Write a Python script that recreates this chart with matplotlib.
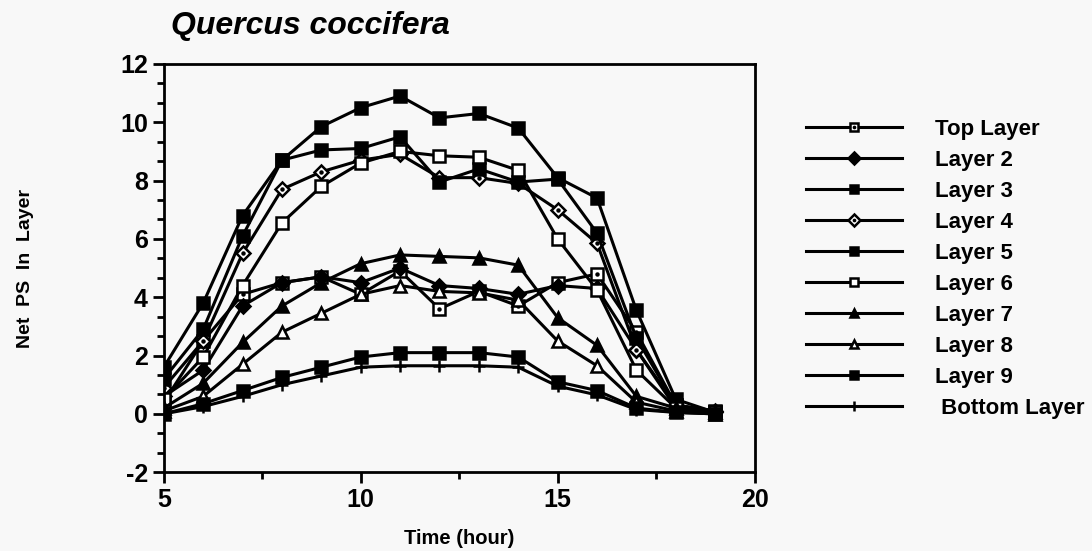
import matplotlib.pyplot as plt
from matplotlib.ticker import MultipleLocator, AutoMinorLocator
from matplotlib.legend_handler import HandlerTuple

plt.rcParams['font.family'] = ['Liberation Sans', 'DejaVu Sans']
plt.rcParams['font.weight'] = 'bold'
plt.rcParams['axes.unicode_minus'] = False

hours = [5, 6, 7, 8, 9, 10, 11, 12, 13, 14, 15, 16, 17, 18, 19]

top_layer = [0.4, 2.5, 4.1, 4.5, 4.7, 4.1, 4.9, 3.6, 4.2, 3.7, 4.5, 4.8, 2.8, 0.3, 0.1]
layer2 = [0.6, 1.5, 3.7, 4.5, 4.7, 4.5, 5.0, 4.4, 4.3, 4.1, 4.4, 4.3, 2.2, 0.3, 0.1]
layer3 = [1.6, 3.8, 6.8, 8.7, 9.85, 10.5, 10.9, 10.15, 10.3, 9.8, 8.1, 7.4, 3.55, 0.5, 0.05]
layer4 = [0.9, 2.5, 5.5, 7.7, 8.3, 8.7, 8.9, 8.1, 8.1, 7.9, 7.0, 5.85, 2.2, 0.2, 0.05]
layer5 = [1.2, 2.9, 6.1, 8.7, 9.05, 9.1, 9.5, 7.95, 8.4, 7.95, 8.05, 6.2, 2.6, 0.3, 0.05]
layer6 = [0.5, 1.95, 4.4, 6.55, 7.8, 8.6, 9.0, 8.85, 8.8, 8.35, 6.0, 4.25, 1.5, 0.2, 0.05]
layer7 = [0.2, 1.05, 2.45, 3.7, 4.5, 5.15, 5.45, 5.4, 5.35, 5.1, 3.3, 2.35, 0.6, 0.2, 0.05]
layer8 = [0.1, 0.6, 1.7, 2.8, 3.45, 4.1, 4.4, 4.2, 4.15, 3.9, 2.5, 1.65, 0.4, 0.1, 0.0]
layer9 = [0.0, 0.35, 0.8, 1.25, 1.6, 1.95, 2.1, 2.1, 2.1, 1.95, 1.1, 0.8, 0.2, 0.05, 0.0]
bottom_layer = [0.0, 0.25, 0.6, 1.0, 1.3, 1.6, 1.65, 1.65, 1.65, 1.6, 0.95, 0.65, 0.15, 0.05, 0.0]

labels = ['Top Layer', 'Layer 2', 'Layer 3', 'Layer 4', 'Layer 5',
          'Layer 6', 'Layer 7', 'Layer 8', 'Layer 9', ' Bottom Layer']
series = [top_layer, layer2, layer3, layer4, layer5,
          layer6, layer7, layer8, layer9, bottom_layer]
# (marker, face colour, dot inside)
styles = [('s', 'white', True), ('D', 'black', False), ('s', 'black', False),
          ('D', 'white', True), ('s', 'black', False), ('s', 'white', False),
          ('^', 'black', False), ('^', 'white', False), ('s', 'black', False),
          ('+', 'black', False)]

BG = '#f8f8f8'
fig = plt.figure(figsize=(10.92, 5.51), dpi=100, facecolor=BG)
ax = fig.add_axes([0.150, 0.143, 0.541, 0.741], facecolor=BG)

handles = []
for vals, (mk, fc, dot) in zip(series, styles):
    ms = 8.5 if mk in ('s', '^') else 7.5
    if mk == '+':
        ms = 9
    line, = ax.plot(hours, vals, color='black', lw=2.2, marker=mk, ms=ms,
                    mfc=fc, mec='black', mew=1.8)
    if dot:
        d, = ax.plot(hours, vals, ls='none', marker='o', ms=2.2, color='black')
        handles.append((line, d))
    else:
        handles.append(line)

ax.set_xlim(5, 20)
ax.set_ylim(-2, 12)
ax.xaxis.set_major_locator(MultipleLocator(5))
ax.xaxis.set_minor_locator(AutoMinorLocator(2))
ax.yaxis.set_major_locator(MultipleLocator(2))
ax.yaxis.set_minor_locator(AutoMinorLocator(3))
ax.tick_params(which='both', direction='out', width=2, labelsize=18, top=False, right=False)
ax.tick_params(which='major', length=8)
ax.tick_params(which='minor', length=5)
for lab in ax.get_xticklabels() + ax.get_yticklabels():
    lab.set_fontweight('bold')
for sp in ax.spines.values():
    sp.set_linewidth(2)

ax.set_xlabel('Time (hour)', fontsize=14.5, fontweight='bold', labelpad=12)
ax.set_ylabel('Net  PS  In  Layer', fontsize=14, fontweight='bold', labelpad=62)
fig.text(0.157, 0.952, 'Quercus coccifera', fontsize=23, fontweight='bold',
         fontstyle='italic', ha='left', va='center')

fig.legend(handles, labels, loc='upper left', bbox_to_anchor=(0.720, 0.821),
           frameon=False, fontsize=16, handlelength=4.3, handletextpad=1.5,
           labelspacing=0.45, markerscale=0.75,
           handler_map={tuple: HandlerTuple(ndivide=1, pad=0)})

fig.savefig('out.png', dpi=100, facecolor=BG)
